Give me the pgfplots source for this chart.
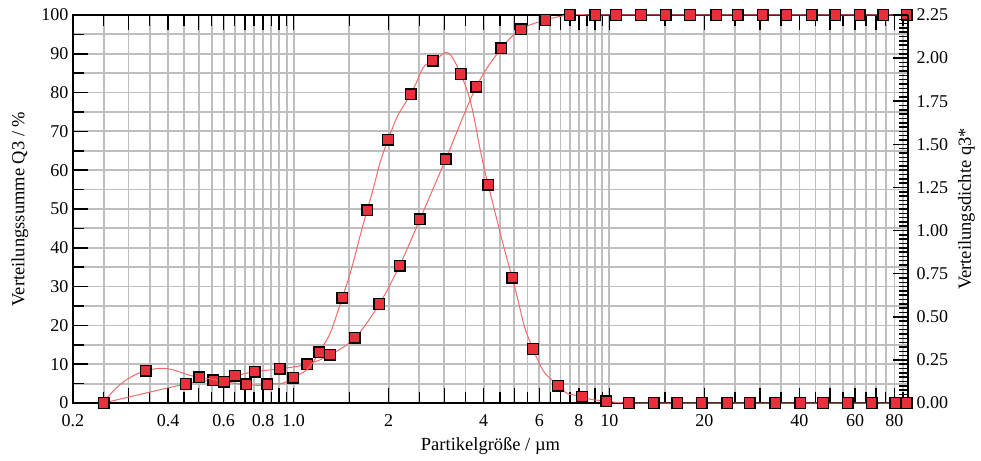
\documentclass[border=0pt]{standalone}
\usepackage{pgfplots}
\pgfplotsset{compat=1.18}
\usepackage{fontspec}
\setmainfont{Liberation Serif}
\definecolor{mk}{HTML}{E8303A}
\definecolor{ln}{HTML}{F06A6A}
\definecolor{gr}{HTML}{BEBEBE}
\pgfplotstableread{
x y
0.25 0
0.455 4.9
0.557 5.9
0.652 7.0
0.753 8.1
0.903 8.8
1.105 10.0
1.303 12.4
1.563 16.8
1.867 25.5
2.165 35.4
2.51 47.3
3.03 62.8
3.79 81.5
4.55 91.4
5.25 96.3
6.27 98.7
7.48 100
9.03 100
10.5 100
12.6 100
15.1 100
18.0 100
21.8 100
25.5 100
30.6 100
36.3 100
43.8 100
51.9 100
62.0 100
73.8 100
87.5 100
}\cumdata
\pgfplotstableread{
x y
0.25 0
0.34 0.187
0.503 0.149
0.602 0.124
0.707 0.108
0.826 0.108
0.998 0.146
1.206 0.295
1.426 0.610
1.71 1.118
1.99 1.526
2.345 1.791
2.76 1.985
3.38 1.908
4.13 1.265
4.92 0.727
5.73 0.313
6.88 0.101
8.19 0.036
9.77 0.011
11.5 0
13.8 0
16.4 0
19.6 0
23.6 0
27.8 0
33.5 0
40.2 0
47.5 0
56.8 0
67.8 0
80.4 0
87.5 0
}\densdata
\begin{document}
\begin{tikzpicture}
\path[use as bounding box] (-73pt,-57pt) rectangle (908pt,403pt);
\begin{axis}[
  at={(0pt,0pt)}, anchor=south west,
  scale only axis, width=835pt, height=388pt,
  xmode=log, xmin=0.2, xmax=88.3,
  ymin=0, ymax=100,
  clip=false,
  tick align=inside,
  every tick/.style={black, line width=1.5pt},
  axis line style={black, line width=1.8pt},
  ticklabel style={font=\fontsize{18}{20}\selectfont},
  label style={font=\fontsize{18.5}{22}\selectfont},
  /pgf/number format/assume math mode=true,
  xtick={0.2,0.3,0.4,0.5,0.6,0.7,0.8,0.9,1,2,3,4,5,6,7,8,9,10,20,30,40,50,60,70,80},
  xticklabels={0.2,,0.4,,0.6,,0.8,,1.0,2,,4,,6,,8,,10,20,,40,,60,,80},
  minor xtick={0.25,0.35,0.45,0.55,0.65,0.75,0.85,0.95,1.5,2.5,3.5,4.5,5.5,6.5,7.5,8.5,9.5,15,25,35,45,55,65,75,85},
  ytick={0,10,20,30,40,50,60,70,80,90,100},
  minor ytick={5,15,25,35,45,55,65,75,85,95},
  grid=both,
  major grid style={gr, line width=1.8pt},
  minor grid style={gr, line width=1.8pt},
  xtick pos=both, ytick pos=left,
  major tick length=15pt, minor tick length=11pt,
  xticklabel style={yshift=-8pt},
  yticklabel style={xshift=-1pt},
  xlabel={Partikelgröße / µm},
  ylabel={Verteilungssumme Q3 / \%},
  x label style={at={(axis description cs:0.5,-0.11)}, anchor=center},
  y label style={at={(axis description cs:-0.0635,0.5)}, anchor=center},
]
\addplot[ln, line width=1pt, smooth, tension=0.6, mark=square*, mark size=5.3pt,
    mark options={fill=mk, draw=black, line width=1.4pt, solid}] table[x=x, y=y] {\cumdata};
\end{axis}
\begin{axis}[
  at={(0pt,0pt)}, anchor=south west,
  scale only axis, width=835pt, height=388pt,
  xmode=log, xmin=0.2, xmax=88.3,
  ymin=0, ymax=2.25,
  clip=false,
  tick align=inside,
  every tick/.style={black, line width=1.5pt},
  axis line style={black, line width=1.8pt},
  ticklabel style={font=\fontsize{18}{20}\selectfont},
  label style={font=\fontsize{18.5}{22}\selectfont},
  /pgf/number format/assume math mode=true,
  axis x line=none, axis y line*=right,
  ytick={0,0.25,0.5,0.75,1,1.25,1.5,1.75,2,2.25},
  minor y tick num=9,
  major tick length=15pt, minor tick length=9pt,
  yticklabel style={xshift=5pt, /pgf/number format/.cd, fixed, fixed zerofill, precision=2},
  ylabel={Verteilungsdichte q3*},
  y label style={at={(axis description cs:1.07,0.5)}, anchor=center},
]
\addplot[ln, line width=1pt, smooth, tension=1, mark=square*, mark size=5.3pt,
    mark options={fill=mk, draw=black, line width=1.4pt, solid}] table[x=x, y=y] {\densdata};
\end{axis}
\end{tikzpicture}
\end{document}
